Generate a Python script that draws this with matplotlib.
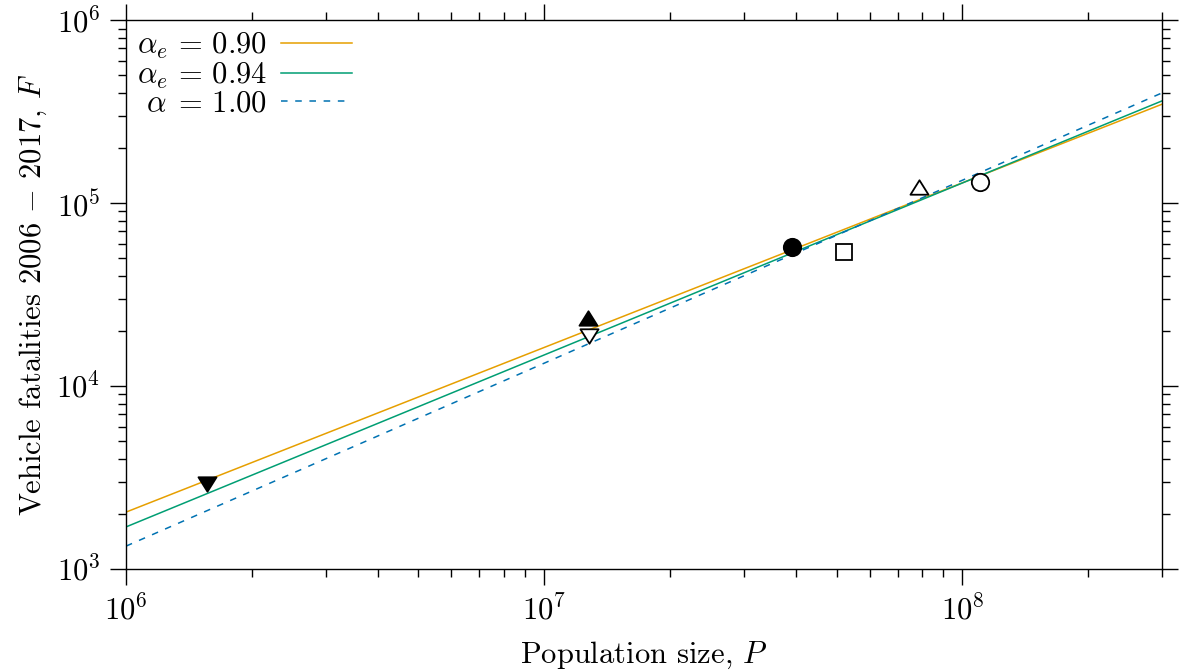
import numpy as np
import matplotlib

matplotlib.use("Agg")
import matplotlib.pyplot as plt
from matplotlib.path import Path
from matplotlib.ticker import LogLocator, NullFormatter

plt.rcParams["font.family"] = "serif"
plt.rcParams["font.serif"] = ["cmr10", "DejaVu Serif"]
plt.rcParams["mathtext.fontset"] = "cm"
plt.rcParams["axes.unicode_minus"] = False
plt.rcParams["axes.formatter.use_mathtext"] = True

# fitted lines: F = 10**log_amp * P**alpha
fit_labels = [r"$\alpha_e\,=\,0.90$", r"$\alpha_e\,=\,0.94$", r"$\alpha\;=\,1.00$"]
fit_alpha = [0.90, 0.94, 1.00]
fit_log_amp = [-2.089, -2.410, -2.875]
fit_colors = ["#E69F00", "#009E73", "#0072B2"]
fit_styles = ["-", "-", (0, (4.3, 5.0))]

# observed points (population, fatalities)
pts_pop = [1.56e6, 1.27e7, 1.28e7, 3.92e7, 5.22e7, 7.89e7, 1.10e8]
pts_fat = [2910, 23500, 18700, 57500, 54000, 122000, 130000]
pts_marker = ["down", "up", "down", "o", "s", "up", "o"]
pts_filled = [True, True, False, True, False, False, False]

# wide, flat triangles like gnuplot's
tri_up = Path([(-1, -0.8), (1, -0.8), (0, 0.8), (-1, -0.8)], closed=True)
tri_down = Path([(-1, 0.8), (1, 0.8), (0, -0.8), (-1, 0.8)], closed=True)
marker_map = {"up": (tri_up, 13), "down": (tri_down, 13), "o": ("o", 12.5), "s": ("s", 12)}

fig = plt.figure(figsize=(11.81, 6.71), dpi=100)
ax = fig.add_axes([0.1067, 0.152, 0.8772, 0.818])

P = np.logspace(6, np.log10(3e8), 200)
for lab, a, amp, c, ls in zip(fit_labels, fit_alpha, fit_log_amp, fit_colors, fit_styles):
    ax.plot(P, 10**amp * P**a, color=c, lw=1.1, ls=ls, label=lab)

for x, y, m, f in zip(pts_pop, pts_fat, pts_marker, pts_filled):
    mk, s = marker_map[m]
    ax.plot([x], [y], marker=mk, ms=s, mew=1.3, mec="black",
            mfc="black" if f else "white", ls="none", zorder=5)

ax.set_xscale("log")
ax.set_yscale("log")
ax.set_xlim(1e6, 3e8)
ax.set_ylim(1e3, 1e6)

for ax_ in [ax.xaxis, ax.yaxis]:
    ax_.set_major_locator(LogLocator(base=10, numticks=10))
    ax_.set_minor_locator(LogLocator(base=10, subs=np.arange(2, 10), numticks=10))
    ax_.set_minor_formatter(NullFormatter())

ax.tick_params(which="both", direction="out", top=True, right=True,
               labelsize=22, width=1.0, color="black")
ax.tick_params(which="major", length=11.5, pad=7)
ax.tick_params(which="minor", length=6)
for sp in ax.spines.values():
    sp.set_linewidth(1.0)

ax.set_xlabel(r"Population size, $P$", fontsize=22, labelpad=10)
ax.set_ylabel(r"Vehicle fatalities 2006 $-$ 2017, $F$", fontsize=22, labelpad=5)

ax.legend(loc="upper left", frameon=False, markerfirst=False, fontsize=22,
          handlelength=2.33, labelspacing=-0.02, borderaxespad=0.1,
          handletextpad=0.45, borderpad=0.25)

fig.savefig("out.png", dpi=100)
